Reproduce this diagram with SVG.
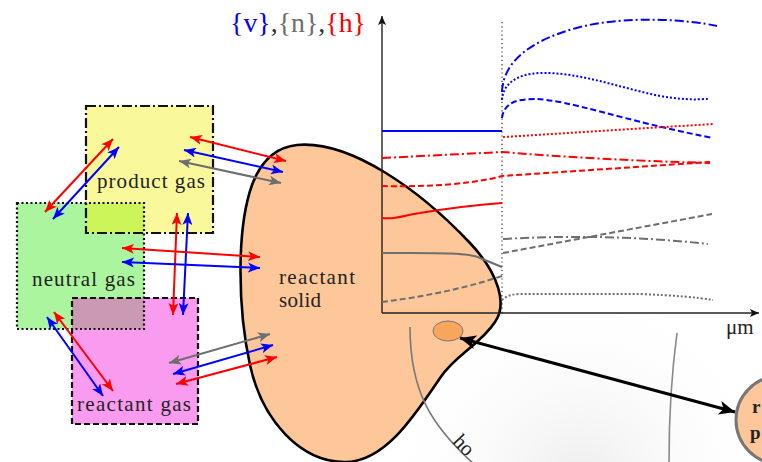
<svg xmlns="http://www.w3.org/2000/svg" width="762" height="462" viewBox="0 0 762 462">
<style>
.lbl{font-family:"Liberation Serif","Times New Roman",serif;font-size:21px;fill:#222}
.box{stroke:#111;stroke-width:2.2;fill:none}
.ar{stroke-width:2;fill:none}
.red{stroke:#ff0000}
.blue{stroke:#0000ff}
.gray{stroke:#6e6e6e}
.cv{fill:none;stroke-width:2}
.dd{stroke-dasharray:9 3 2 3}
.da{stroke-dasharray:6 3}
.dt{stroke-dasharray:2 2}
</style>
<defs>
<radialGradient id="bg" cx="580" cy="480" r="200" gradientUnits="userSpaceOnUse">
<stop offset="0" stop-color="#ededed"/>
<stop offset="1" stop-color="#ffffff" stop-opacity="0"/>
</radialGradient>
<marker id="mr" markerUnits="userSpaceOnUse" markerWidth="14" markerHeight="10" refX="12" refY="5" orient="auto-start-reverse" viewBox="0 0 14 10"><path d="M0,0 L12,5 L0,10 L3,5 Z" fill="#ff0000"/></marker>
<marker id="mb" markerUnits="userSpaceOnUse" markerWidth="14" markerHeight="10" refX="12" refY="5" orient="auto-start-reverse" viewBox="0 0 14 10"><path d="M0,0 L12,5 L0,10 L3,5 Z" fill="#0000ff"/></marker>
<marker id="mg" markerUnits="userSpaceOnUse" markerWidth="14" markerHeight="10" refX="12" refY="5" orient="auto-start-reverse" viewBox="0 0 14 10"><path d="M0,0 L12,5 L0,10 L3,5 Z" fill="#6e6e6e"/></marker>
<marker id="mk" markerUnits="userSpaceOnUse" markerWidth="18" markerHeight="14" refX="16" refY="7" orient="auto-start-reverse" viewBox="0 0 18 14"><path d="M0,0 L16,7 L0,14 L4,7 Z" fill="#000"/></marker>
<marker id="ma" markerUnits="userSpaceOnUse" markerWidth="10" markerHeight="8" refX="9" refY="4" orient="auto" viewBox="0 0 10 8"><path d="M0,0 L9,4 L0,8 L2,4 Z" fill="#111"/></marker>
</defs>
<rect x="0" y="0" width="762" height="462" fill="#fff"/>
<rect x="370" y="270" width="392" height="192" fill="url(#bg)"/>

<g id="reactant-gas">
<rect x="72" y="298" width="126" height="126" fill="#f99cf0"/>
</g>
<g id="neutral-gas">
<rect x="17" y="203" width="127" height="126" fill="#aaf59e"/>
</g>
<g id="product-gas">
<rect x="86" y="106" width="127" height="127" fill="#f9f99c"/>
</g>
<g id="overlaps">
<rect x="86" y="203" width="58" height="30" fill="#ccf55a"/>
<rect x="72" y="298" width="72" height="31" fill="#c99ab2"/>
</g>
<g id="box-borders">
<rect class="box" x="86" y="106" width="127" height="127" stroke-dasharray="10 3 2 3"/>
<rect class="box" x="17" y="203" width="127" height="126" stroke-dasharray="2 2.5"/>
<rect class="box" x="72" y="298" width="126" height="126" stroke-dasharray="6 3"/>
<text class="lbl" x="97" y="188" textLength="108" lengthAdjust="spacing">product gas</text>
<text class="lbl" x="32" y="286" textLength="103" lengthAdjust="spacing">neutral gas</text>
<text class="lbl" x="77" y="411" textLength="114" lengthAdjust="spacing">reactant gas</text>
</g>

<g id="reactant-solid">
<path d="M297,145 C350,140 420,190 470,243 C500,275 507,305 495,322 C480,345 455,355 440,378 C415,415 385,462 345,462 C300,462 262,420 250,365 C238,310 236,230 252,185 C262,158 278,147 297,145 Z" fill="#fdc79a" stroke="#000" stroke-width="2.6"/>
<text class="lbl" x="279" y="284" textLength="76" lengthAdjust="spacing">reactant</text>
<text class="lbl" x="279" y="307" textLength="42" lengthAdjust="spacing">solid</text>
</g>

<g id="chart">
<text x="230" y="32" font-family="Liberation Serif, serif" font-size="27" textLength="136" lengthAdjust="spacingAndGlyphs"><tspan fill="#0000ff">{v}</tspan><tspan fill="#333">,</tspan><tspan fill="#6e6e6e">{n}</tspan><tspan fill="#333">,</tspan><tspan fill="#ff0000">{h}</tspan></text>
<line x1="382" y1="313" x2="382" y2="16" stroke="#222" stroke-width="1.4" marker-end="url(#ma)"/>
<line x1="382" y1="313" x2="759" y2="313" stroke="#222" stroke-width="1.4" marker-end="url(#ma)"/>
<text class="lbl" x="726" y="334">μm</text>
<line x1="502" y1="22" x2="502" y2="313" stroke="#222" stroke-width="1.1" stroke-dasharray="1.2 3"/>
<path class="cv blue" d="M382,131 L502,131"/>
<path class="cv blue dd" stroke-width="2.4" d="M502,92 C503,62 530,40 580,27 C630,15 690,20 717,26"/>
<path class="cv blue dt" stroke-width="2.4" d="M502,100 C503,85 515,74 540,73 C580,72 620,88 660,96 C690,101 700,99 708,99"/>
<path class="cv blue da" stroke-width="2.4" d="M502,118 C504,102 518,99 535,99 C570,100 620,120 713,138"/>
<path class="cv red dt" d="M503,137 L713,124"/>
<path class="cv red dd" d="M382,158 L502,152 Q600,160 710,163"/>
<path class="cv red da" d="M382,186 C420,187 470,185 502,176 L710,162"/>
<path class="cv red" d="M382,218 C395,220 405,215 420,213 C450,208 475,205 502,203"/>
<path class="cv gray dd" d="M503,239 Q610,233 708,244"/>
<path class="cv gray da" d="M503,253 L712,214"/>
<path class="cv gray" d="M382,253 C430,253 468,252 480,258 Q492,263 502,267"/>
<path class="cv gray da" d="M382,302 C420,297 460,290 502,276"/>
<path class="cv gray dt" d="M502,300 Q508,294 520,294 L640,294 Q690,296 713,300"/>
</g>

<g id="horizon">
<path id="hz" d="M410,327 C410,390 430,425 475,465" fill="none" stroke="#777" stroke-width="1.6"/>
<text class="lbl" font-size="20"><textPath href="#hz" startOffset="126">ho</textPath></text>
<path d="M677,333 C672,370 669,410 669,462" fill="none" stroke="#888" stroke-width="1.6"/>
</g>

<g id="particle">
<ellipse cx="448" cy="331" rx="15" ry="10" fill="#f9a55e" stroke="#777" stroke-width="1"/>
</g>

<g id="reactant-particle">
<circle cx="780" cy="420" r="44" fill="#fdc79a" stroke="#777" stroke-width="3"/>
<text x="752" y="413" font-family="Liberation Serif, serif" font-weight="bold" font-size="19" fill="#222">r</text>
<text x="750" y="439" font-family="Liberation Serif, serif" font-weight="bold" font-size="19" fill="#222">p</text>
</g>

<g id="connectors">
<line class="ar red" x1="45" y1="212" x2="113" y2="139" marker-start="url(#mr)" marker-end="url(#mr)"/>
<line class="ar blue" x1="53" y1="219" x2="119" y2="147" marker-start="url(#mb)" marker-end="url(#mb)"/>
<line class="ar red" x1="190" y1="137" x2="286" y2="161" marker-start="url(#mr)" marker-end="url(#mr)"/>
<line class="ar blue" x1="184" y1="150" x2="283" y2="172" marker-start="url(#mb)" marker-end="url(#mb)"/>
<line class="ar gray" x1="179" y1="161" x2="281" y2="183" marker-start="url(#mg)" marker-end="url(#mg)"/>
<line class="ar red" x1="177" y1="213" x2="173" y2="315" marker-start="url(#mr)" marker-end="url(#mr)"/>
<line class="ar blue" x1="188" y1="213" x2="183" y2="315" marker-start="url(#mb)" marker-end="url(#mb)"/>
<line class="ar red" x1="122" y1="248" x2="260" y2="257" marker-start="url(#mr)" marker-end="url(#mr)"/>
<line class="ar blue" x1="122" y1="262" x2="260" y2="268" marker-start="url(#mb)" marker-end="url(#mb)"/>
<line class="ar red" x1="54" y1="312" x2="113" y2="391" marker-start="url(#mr)" marker-end="url(#mr)"/>
<line class="ar blue" x1="47" y1="317" x2="103" y2="396" marker-start="url(#mb)" marker-end="url(#mb)"/>
<line class="ar gray" x1="169" y1="363" x2="270" y2="334" marker-start="url(#mg)" marker-end="url(#mg)"/>
<line class="ar blue" x1="173" y1="374" x2="273" y2="345" marker-start="url(#mb)" marker-end="url(#mb)"/>
<line class="ar red" x1="176" y1="384" x2="277" y2="357" marker-start="url(#mr)" marker-end="url(#mr)"/>
<line x1="460" y1="338" x2="735" y2="412" stroke="#000" stroke-width="3" marker-start="url(#mk)" marker-end="url(#mk)"/>
</g>
</svg>
